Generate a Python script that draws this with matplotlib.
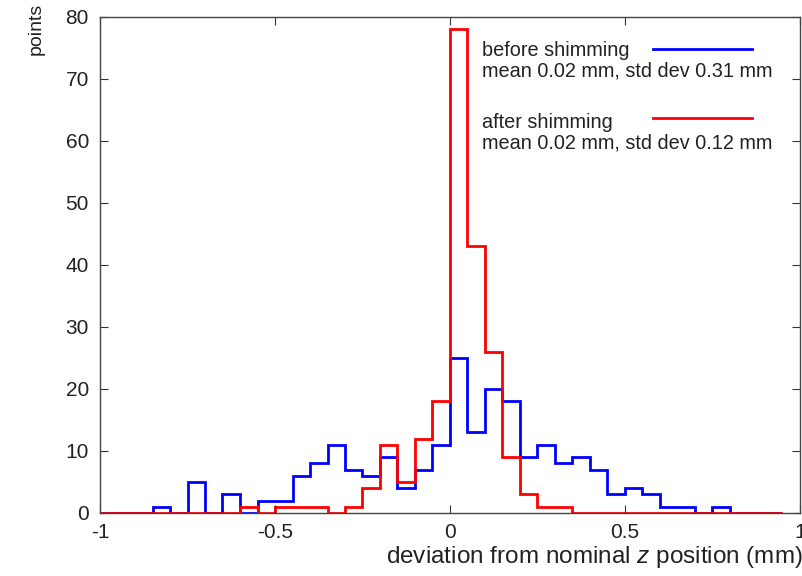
import numpy as np
import matplotlib.pyplot as plt
from matplotlib.lines import Line2D

plt.rcParams['font.family'] = ['Liberation Sans', 'DejaVu Sans']
plt.rcParams['axes.unicode_minus'] = False
plt.rcParams['mathtext.fontset'] = 'custom'
plt.rcParams['mathtext.it'] = 'Liberation Sans:italic'
plt.rcParams['mathtext.rm'] = 'Liberation Sans'

# histogram bins (width 0.05 mm), from -1 to 0.95
edges = np.round(np.arange(-1.0, 0.951, 0.05), 2)

before = [0, 0, 0, 1, 0, 5, 0, 3, 0, 2, 2, 6, 8, 11, 7, 6, 9, 4, 7, 11,
          25, 13, 20, 18, 9, 11, 8, 9, 7, 3, 4, 3, 1, 1, 0, 1, 0, 0, 0]
after = [0, 0, 0, 0, 0, 0, 0, 0, 1, 0, 1, 1, 1, 0, 1, 4, 11, 5, 12, 18,
         78, 43, 26, 9, 3, 1, 1, 0, 0, 0, 0, 0, 0, 0, 0, 0, 0, 0, 0]

labels_before = ["before shimming", "mean 0.02 mm, std dev 0.31 mm"]
labels_after = ["after shimming", "mean 0.02 mm, std dev 0.12 mm"]

fig = plt.figure(figsize=(8.03, 5.76), dpi=100)
ax = fig.add_axes([100 / 803, 1 - 513 / 576, 700 / 803, 496 / 576])

ax.stairs(before, edges, color='#0000ff', lw=2.0, baseline=None)
ax.stairs(after, edges, color='#ff0000', lw=2.0, baseline=None)

ax.set_xlim(-1, 1)
ax.set_ylim(0, 80)
ax.set_xticks([-1, -0.5, 0, 0.5, 1])
ax.set_xticklabels(['-1', '-0.5', '0', '0.5', '1'])
ax.set_yticks(range(0, 81, 10))
ax.tick_params(direction='in', length=6, width=0.8, colors='#333333',
               labelsize=15, labelcolor='#222222', top=True, right=True)
ax.tick_params(axis='y', pad=8)
ax.tick_params(axis='x', pad=7)
for sp in ax.spines.values():
    sp.set_color('#444444')
    sp.set_linewidth(1.0)

# legend in gnuplot style: text left, line sample right
tx = (482 - 100) / 700
lx0, lx1 = (653 - 100) / 700, (752 - 100) / 700
for (top, bottom), color, ytxt, yline in [(labels_before, '#0000ff', 50, 49),
                                          (labels_after, '#ff0000', 122, 118)]:
    ax.text(tx, (513 - ytxt) / 496, top, transform=ax.transAxes,
            fontsize=14.3, color='#222222', va='center', ha='left')
    ax.text(tx, (513 - ytxt - 21) / 496, bottom, transform=ax.transAxes,
            fontsize=14.3, color='#222222', va='center', ha='left')
    yf = (513 - yline) / 496
    ax.add_line(Line2D([lx0, lx1], [yf, yf], transform=ax.transAxes,
                       color=color, lw=2.0))

fig.text(36 / 803, 1 - 3 / 576, 'points', rotation=90, ha='center',
         va='top', fontsize=14, color='#222222')
fig.text(803 / 803, 1 - 557 / 576,
         r'deviation from nominal $z$ position (mm)', ha='right',
         va='center', fontsize=17.5, color='#222222')

fig.savefig('out.png', dpi=100)
